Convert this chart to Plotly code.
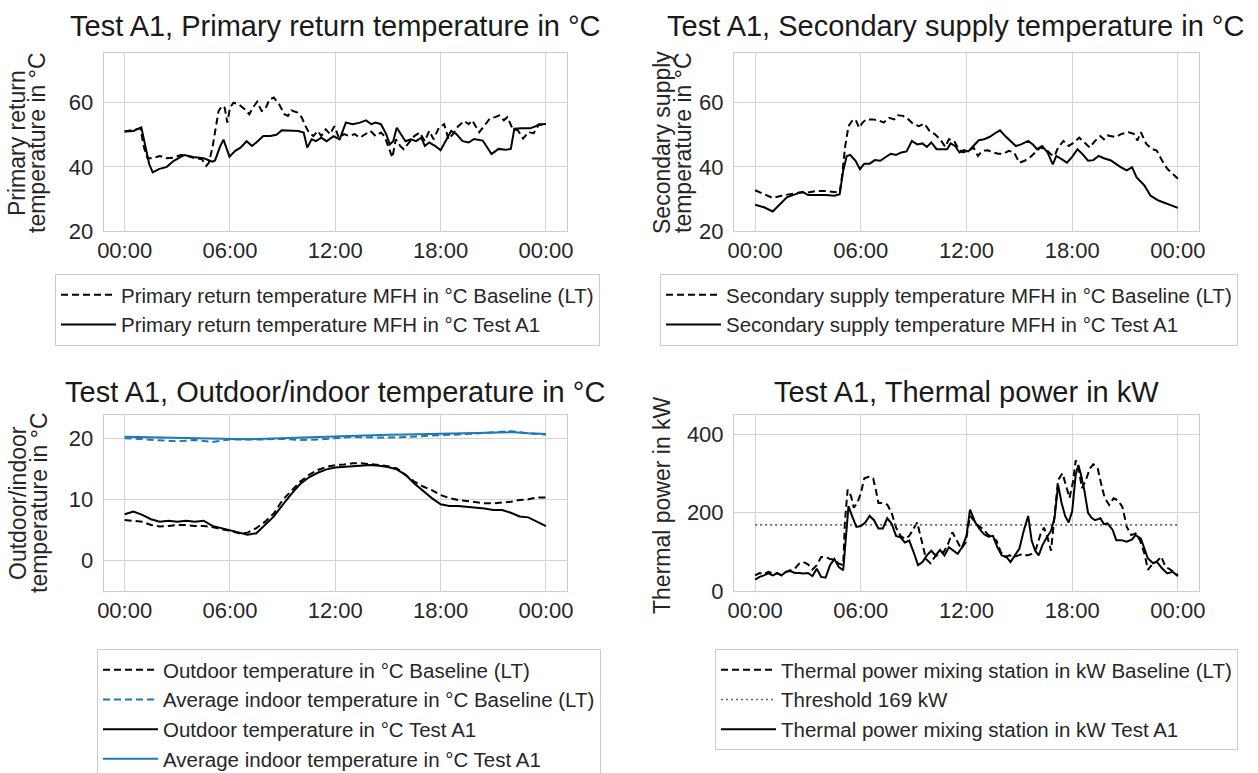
import plotly.graph_objects as go

# ---------------- data (hours since midnight) ----------------
# Primary return temperature MFH in degC
ret_base_h = [0, 0.9, 1.1, 1.3, 1.6, 2.0, 2.4, 2.8, 3.2, 3.6, 4.0, 4.4, 4.65, 4.8, 5.0, 5.2, 5.35, 5.55, 5.7, 5.85,
              6.0, 6.2, 6.5, 6.85, 7.1, 7.3, 7.55, 7.8, 8.0, 8.25, 8.5, 8.8, 9.1, 9.3, 9.5, 9.85, 10.1, 10.3, 10.5, 10.75,
              11.0, 11.2, 11.45, 11.7, 11.95, 12.2, 12.5, 12.8, 13.1, 13.4, 13.7, 14.0, 14.3, 14.6, 14.8, 15.05, 15.25, 15.45, 15.7, 15.9,
              16.2, 16.5, 16.8, 17.1, 17.35, 17.6, 17.9, 18.2, 18.45, 18.7, 19.0, 19.35, 19.6, 19.8, 20.2, 20.5, 20.8, 21.1, 21.35, 21.6,
              21.8, 22.1, 22.4, 22.7, 23.0, 23.3, 23.6, 24.0]
ret_base = [51.0, 52.0, 46.0, 42.7, 42.7, 43.4, 42.7, 42.9, 43.7, 43.4, 42.7, 42.4, 40.3, 41.3, 46.0, 52.2, 57.4, 59.0, 58.4, 53.8,
            58.4, 60.0, 59.5, 57.9, 56.4, 58.4, 60.3, 57.4, 57.9, 61.0, 61.6, 59.5, 56.4, 55.9, 57.6, 56.9, 55.3, 52.7, 50.7, 49.6,
            51.2, 49.6, 51.7, 50.2, 52.7, 49.1, 50.2, 49.6, 50.2, 49.1, 50.2, 51.2, 49.6, 50.7, 49.6, 46.0, 42.9, 48.6, 46.5, 45.5,
            47.6, 49.6, 50.7, 48.0, 51.2, 48.6, 52.2, 53.3, 48.6, 50.2, 52.7, 54.3, 53.3, 54.5, 50.8, 52.9, 55.0, 55.5, 56.0, 54.5,
            55.5, 51.9, 51.4, 48.8, 50.8, 50.5, 53.2, 53.0]
ret_test_h = [0, 0.5, 0.95, 1.2, 1.4, 1.6, 1.95, 2.4, 2.8, 3.4, 3.9, 4.5, 5.0, 5.15, 5.45, 5.63, 5.97, 6.3, 6.6, 6.95,
              7.25, 7.5, 7.9, 8.3, 8.65, 8.95, 9.4, 9.9, 10.2, 10.4, 10.65, 10.9, 11.2, 11.5, 11.9, 12.25, 12.6, 13.0, 13.4, 13.75,
              14.05, 14.3, 14.6, 14.9, 15.1, 15.3, 15.5, 15.75, 16.0, 16.3, 16.6, 16.9, 17.1, 17.35, 17.7, 18.0, 18.3, 18.6, 18.9, 19.25,
              19.6, 19.9, 20.4, 20.9, 21.3, 21.7, 22.0, 22.2, 22.6, 23.1, 23.4, 23.6, 24.0]
ret_test = [51.0, 51.2, 52.3, 46.0, 40.8, 38.3, 39.3, 40.0, 41.9, 43.7, 43.1, 42.7, 41.6, 42.0, 46.5, 48.5, 43.2, 45.0, 46.0, 48.0,
            46.5, 47.6, 49.6, 49.6, 50.0, 51.4, 51.4, 51.2, 50.7, 46.0, 48.6, 48.0, 49.1, 48.0, 49.6, 48.6, 53.8, 53.3, 53.8, 54.5,
            53.3, 53.8, 53.3, 50.2, 47.0, 48.0, 52.2, 50.2, 48.0, 48.6, 48.0, 49.1, 46.5, 47.6, 46.5, 45.2, 48.0, 51.2, 50.2, 48.0,
            47.6, 48.7, 48.2, 44.0, 45.6, 45.3, 45.6, 51.9, 52.0, 52.0, 52.6, 53.2, 53.4]

# Secondary supply temperature MFH in degC
sup_base_h = [0, 0.5, 1.0, 1.5, 2.0, 2.5, 3.0, 3.5, 4.0, 4.5, 4.8, 4.95, 5.1, 5.3, 5.5, 5.7, 5.9, 6.1, 6.3, 6.7,
              7.0, 7.3, 7.6, 7.9, 8.1, 8.4, 8.7, 9.0, 9.3, 9.6, 9.9, 10.2, 10.5, 10.8, 11.0, 11.3, 11.55, 11.8, 12.1, 12.4,
              12.65, 12.9, 13.2, 13.5, 13.8, 14.1, 14.4, 14.7, 15.0, 15.3, 15.6, 15.9, 16.2, 16.5, 16.8, 17.0, 17.2, 17.5, 17.8, 18.1,
              18.4, 18.7, 19.0, 19.3, 19.6, 19.8, 20.0, 20.5, 20.8, 21.2, 21.5, 21.7, 21.9, 22.2, 22.5, 22.8, 23.1, 23.4, 23.7, 24.0]
sup_base = [32.7, 31.5, 30.3, 31.0, 31.5, 32.0, 32.0, 32.5, 32.5, 32.2, 32.0, 37.7, 46.0, 52.7, 54.3, 54.8, 52.2, 53.8, 54.8, 54.8,
            54.5, 53.8, 55.3, 54.8, 56.1, 55.9, 54.8, 53.3, 52.7, 53.5, 51.2, 50.2, 48.6, 46.2, 48.6, 48.1, 45.5, 44.5, 45.0, 46.0,
            43.4, 45.0, 45.2, 44.5, 44.1, 44.1, 45.0, 44.5, 41.3, 41.9, 42.9, 44.5, 46.0, 45.5, 43.9, 43.4, 46.0, 48.1, 46.5, 47.6,
            49.1, 47.6, 46.0, 48.1, 49.6, 48.6, 49.8, 49.3, 50.3, 50.8, 50.3, 48.2, 50.8, 47.2, 45.6, 45.1, 42.0, 39.4, 37.8, 36.3]
sup_test_h = [0, 0.5, 1.0, 1.4, 1.8, 2.3, 2.7, 3.0, 3.5, 4.0, 4.5, 4.8, 5.0, 5.2, 5.4, 5.7, 5.95, 6.2, 6.5, 6.8,
              7.1, 7.4, 7.7, 8.0, 8.3, 8.6, 8.9, 9.2, 9.5, 9.75, 10.0, 10.3, 10.6, 10.9, 11.1, 11.35, 11.6, 11.85, 12.1, 12.4,
              12.7, 13.0, 13.3, 13.6, 13.9, 14.2, 14.5, 14.8, 15.1, 15.5, 15.8, 16.0, 16.3, 16.6, 16.9, 17.1, 17.4, 17.7, 18.0, 18.3,
              18.6, 18.9, 19.2, 19.5, 19.8, 20.2, 20.75, 21.1, 21.4, 21.65, 22.1, 22.45, 22.9, 23.5, 24.0]
sup_test = [28.2, 27.4, 26.1, 28.4, 30.5, 31.5, 32.2, 31.2, 31.3, 31.2, 31.0, 31.5, 38.8, 43.4, 43.7, 41.9, 39.3, 41.0, 41.0, 42.1,
            41.9, 43.1, 44.1, 43.7, 44.5, 44.8, 48.1, 47.0, 47.3, 46.2, 47.6, 45.5, 45.5, 45.5, 47.3, 46.5, 44.5, 45.2, 44.8, 46.5,
            48.3, 48.6, 49.3, 50.4, 51.4, 49.6, 48.1, 46.5, 47.0, 48.1, 46.8, 45.5, 46.5, 44.5, 40.8, 43.4, 42.4, 41.3, 43.1, 45.5,
            43.9, 41.9, 42.1, 43.4, 42.7, 42.0, 39.9, 38.9, 39.9, 36.8, 34.2, 31.0, 29.5, 28.2, 27.2]

# Outdoor / average indoor temperature in degC
out_h = [i * 0.5 for i in range(49)]
out_base = [6.6, 6.5, 6.35, 5.8, 5.55, 5.65, 5.8, 5.8, 5.65, 5.65, 5.45, 5.1, 4.9, 4.45, 4.55, 5.3, 6.35, 7.7, 9.9, 11.4,
            12.9, 14.0, 14.8, 15.3, 15.6, 15.7, 15.9, 15.9, 15.8, 15.6, 15.4, 15.05, 14.0, 12.9, 12.1, 11.5, 10.7, 10.2, 9.9, 9.7,
            9.6, 9.35, 9.35, 9.45, 9.6, 9.9, 10.0, 10.3, 10.3]
out_test = [7.55, 8.0, 7.45, 6.75, 6.35, 6.5, 6.35, 6.5, 6.35, 6.5, 5.65, 5.3, 5.0, 4.55, 4.2, 4.45, 5.8, 7.2, 9.1, 10.9,
            12.5, 13.6, 14.35, 14.9, 15.2, 15.3, 15.4, 15.6, 15.6, 15.5, 15.3, 14.9, 14.0, 12.6, 11.4, 10.2, 9.2, 8.9, 8.9, 8.8,
            8.7, 8.5, 8.25, 8.25, 7.8, 7.2, 7.05, 6.3, 5.6]
in_h = list(range(25))
in_base = [20.0, 19.8, 19.6, 19.5, 19.7, 19.4, 19.8, 19.75, 19.8, 19.9, 19.7, 19.8, 20.0, 20.2, 20.15, 20.1, 20.2, 20.4,
           20.5, 20.6, 20.75, 20.9, 21.15, 20.8, 20.6]
in_test = [20.25, 20.2, 20.1, 20.0, 19.95, 19.9, 19.85, 19.85, 19.9, 20.0, 20.1, 20.2, 20.35, 20.45, 20.5, 20.55, 20.6,
           20.65, 20.7, 20.75, 20.8, 20.9, 21.0, 20.8, 20.7]

# Thermal power mixing station in kW
heat_base_h = [0, 0.25, 0.5, 0.75, 1.0, 1.25, 1.5, 1.75, 2.0, 2.25, 2.5, 2.75, 3.0, 3.25, 3.5, 3.75, 4.0, 4.25, 4.5, 4.75,
               5.0, 5.1, 5.25, 5.45, 5.6, 5.8, 6.0, 6.2, 6.45, 6.7, 6.85, 7.0, 7.25, 7.5, 7.75, 8.0, 8.25, 8.5, 8.75, 9.0,
               9.2, 9.45, 9.7, 9.95, 10.2, 10.45, 10.7, 10.95, 11.2, 11.45, 11.7, 11.95, 12.2, 12.45, 12.7, 12.95, 13.2, 13.45, 13.7, 13.95,
               14.2, 14.45, 14.7, 14.95, 15.2, 15.45, 15.7, 15.95, 16.2, 16.4, 16.6, 16.8, 17.0, 17.2, 17.45, 17.65, 17.85, 18.05, 18.2, 18.35,
               18.55, 18.75, 19.0, 19.2, 19.45, 19.7, 19.85, 20.1, 20.35, 20.6, 20.85, 21.1, 21.35, 21.6, 21.85, 22.1, 22.3, 22.55, 22.8, 23.05,
               23.3, 23.6, 24.0]
heat_base = [40, 46, 43, 49, 45, 46, 40, 49, 53, 57, 70, 74, 68, 55, 66, 87, 87, 82, 80, 70,
             66, 179, 259, 242, 213, 225, 250, 288, 292, 288, 259, 225, 225, 221, 200, 162, 141, 133, 141, 162,
             175, 129, 82, 71, 87, 95, 99, 120, 150, 129, 108, 124, 192, 179, 166, 158, 145, 137, 129, 99,
             87, 91, 87, 91, 95, 91, 95, 108, 145, 162, 137, 103, 204, 284, 301, 271, 238, 280, 334, 318,
             263, 280, 313, 324, 313, 263, 238, 220, 237, 232, 215, 164, 143, 147, 130, 96, 54, 69, 75, 88,
             62, 54, 41]
heat_test_h = [0, 0.25, 0.5, 0.75, 1.0, 1.25, 1.5, 1.75, 2.0, 2.25, 2.5, 2.75, 3.0, 3.25, 3.5, 3.75, 4.0, 4.25, 4.5, 4.75,
               5.0, 5.15, 5.3, 5.5, 5.75, 6.0, 6.25, 6.5, 6.75, 7.0, 7.25, 7.5, 7.75, 8.0, 8.25, 8.5, 8.75, 9.0, 9.25, 9.5,
               9.75, 10.0, 10.25, 10.5, 10.75, 11.0, 11.25, 11.5, 11.75, 12.0, 12.2, 12.5, 12.75, 13.0, 13.25, 13.5, 13.75, 14.0, 14.25, 14.5,
               14.75, 15.0, 15.25, 15.5, 15.7, 15.9, 16.1, 16.3, 16.55, 16.8, 17.0, 17.2, 17.4, 17.6, 17.8, 18.0, 18.2, 18.35, 18.5, 18.7,
               18.9, 19.1, 19.3, 19.6, 19.8, 20.0, 20.3, 20.5, 20.8, 21.1, 21.4, 21.6, 21.9, 22.1, 22.3, 22.6, 22.8, 23.1, 23.4, 23.7,
               24.0]
heat_test = [29, 36, 40, 45, 40, 45, 40, 49, 51, 46, 46, 45, 46, 38, 57, 36, 34, 66, 82, 61,
             53, 129, 217, 192, 164, 166, 175, 192, 181, 160, 160, 186, 172, 141, 137, 124, 129, 99, 66, 74,
             91, 103, 91, 105, 91, 112, 103, 95, 112, 141, 208, 175, 158, 145, 139, 141, 112, 91, 88, 74,
             91, 108, 154, 192, 129, 103, 91, 116, 137, 154, 187, 271, 225, 192, 175, 204, 297, 322, 297, 255,
             200, 187, 181, 186, 171, 173, 156, 130, 130, 126, 132, 143, 134, 109, 83, 71, 75, 58, 45, 49,
             38]
threshold_kw = 169
threshold_h = [0, 24]

tick_hours = [0, 6, 12, 18, 24]
tick_text = ["00:00", "06:00", "12:00", "18:00", "00:00"]

# ---------------- styling ----------------
W, H = 1258, 773
FONT = "Liberation Sans, Arial, Helvetica, sans-serif"
TXT = "#262626"
GRID = "#d3d3d3"
BLUE = "#1f77b4"
DASH = "7px,4px"
LW = 2


def px_x(p):
    return p / W


def px_y(p):
    return 1 - p / H


fig = go.Figure()


def line(x, y, name, ax, legend, color="black", dash="solid", width=LW):
    fig.add_trace(go.Scatter(
        x=x, y=y, name=name, mode="lines",
        xaxis="x" + ax, yaxis="y" + ax, legend=legend, legendgroup=name,
        line=dict(color=color, dash=dash, width=width),
        hoverinfo="skip",
    ))


# panel 1
line(ret_base_h, ret_base, "Primary return temperature MFH in °C Baseline (LT)", "", "legend", dash=DASH)
line(ret_test_h, ret_test, "Primary return temperature MFH in °C Test A1", "", "legend")
# panel 2
line(sup_base_h, sup_base, "Secondary supply temperature MFH in °C Baseline (LT)", "2", "legend2", dash=DASH)
line(sup_test_h, sup_test, "Secondary supply temperature MFH in °C Test A1", "2", "legend2")
# panel 3
line(out_h, out_base, "Outdoor temperature in °C Baseline (LT)", "3", "legend3", dash=DASH)
line(in_h, in_base, "Average indoor temperature in °C Baseline (LT)", "3", "legend3", color=BLUE, dash=DASH)
line(out_h, out_test, "Outdoor temperature in °C Test A1", "3", "legend3")
line(in_h, in_test, "Average indoor temperature in °C Test A1", "3", "legend3", color=BLUE)
# panel 4
line(heat_base_h, heat_base, "Thermal power mixing station in kW Baseline (LT)", "4", "legend4", dash=DASH)
line(threshold_h, [threshold_kw] * len(threshold_h), f"Threshold {threshold_kw} kW", "4", "legend4",
     color="#666666", dash="2px,3px", width=1.6)
line(heat_test_h, heat_test, "Thermal power mixing station in kW Test A1", "4", "legend4")

# axis boxes in pixels
left_box = (103.6, 567)
right_box = (734, 1199)
top_box = (53, 231)
bottom_box = (415, 591)


def xaxis(box, anchor):
    return dict(domain=[px_x(box[0]), px_x(box[1])], anchor=anchor, range=[-1.2, 25.2],
                tickvals=tick_hours, ticktext=tick_text, showgrid=True, gridcolor=GRID, gridwidth=1,
                showline=True, linecolor="#cccccc", linewidth=1, mirror=True, zeroline=False,
                ticks="", tickfont=dict(size=22, color=TXT, family=FONT))


def yaxis(box, anchor, rng, dtick):
    return dict(domain=[px_y(box[1]), px_y(box[0])], anchor=anchor, range=rng, dtick=dtick,
                showgrid=True, gridcolor=GRID, gridwidth=1, showline=True, linecolor="#cccccc",
                linewidth=1, mirror=True, zeroline=False, ticks="", ticklabelstandoff=5,
                tickfont=dict(size=22, color=TXT, family=FONT))


def legend_box(xp, yp):
    return dict(x=px_x(xp), y=px_y(yp), xanchor="left", yanchor="top", bgcolor="white",
                bordercolor="#cccccc", borderwidth=1, font=dict(size=20.5, color=TXT, family=FONT),
                tracegroupgap=0, itemwidth=55, traceorder="grouped")


titles = [
    ("Test A1, Primary return temperature in °C", (left_box[0] + left_box[1]) / 2, 26),
    ("Test A1, Secondary supply temperature in °C", 955, 26),
    ("Test A1, Outdoor/indoor temperature in °C", (left_box[0] + left_box[1]) / 2, 392),
    ("Test A1, Thermal power in kW", (right_box[0] + right_box[1]) / 2, 392),
]
# rotated axis titles, one entry per text line: (text, x centre px, y centre px)
ytitle_lines = [
    ("Primary return", 17, 143),
    ("temperature in °C", 37, 143),
    ("Secondary supply", 662, 143),
    ("temperature in °C", 683, 143),
    ("Outdoor/indoor", 18, 503),
    ("temperature in °C", 39, 503),
    ("Thermal power in kW", 662, 505),
]
annotations = []
for text, xc, yc in titles:
    annotations.append(dict(text=text, x=px_x(xc), y=px_y(yc), xref="paper", yref="paper",
                            xanchor="center", yanchor="middle", showarrow=False,
                            font=dict(size=29, color="#1a1a1a", family=FONT)))
for text, xc, yc in ytitle_lines:
    annotations.append(dict(text=text, x=px_x(xc), y=px_y(yc), xref="paper", yref="paper",
                            xanchor="center", yanchor="middle", showarrow=False, textangle=-90,
                            font=dict(size=23, color=TXT, family=FONT)))

fig.update_layout(
    width=W, height=H, margin=dict(l=0, r=0, t=0, b=0, autoexpand=False),
    paper_bgcolor="white", plot_bgcolor="white",
    font=dict(family=FONT, color=TXT),
    showlegend=True,
    xaxis=xaxis(left_box, "y"), yaxis=yaxis(top_box, "x", [20, 75.5], 20),
    xaxis2=xaxis(right_box, "y2"), yaxis2=yaxis(top_box, "x2", [20, 75.5], 20),
    xaxis3=xaxis(left_box, "y3"), yaxis3=yaxis(bottom_box, "x3", [-5, 23.8], 10),
    xaxis4=xaxis(right_box, "y4"), yaxis4=yaxis(bottom_box, "x4", [0, 450], 200),
    legend=legend_box(55, 274),
    legend2=legend_box(660, 274),
    legend3=legend_box(97, 649),
    legend4=legend_box(715, 649),
    annotations=annotations,
)

fig.write_html("out.html", post_script="document.body.style.margin='0';document.body.style.overflow='hidden';")
